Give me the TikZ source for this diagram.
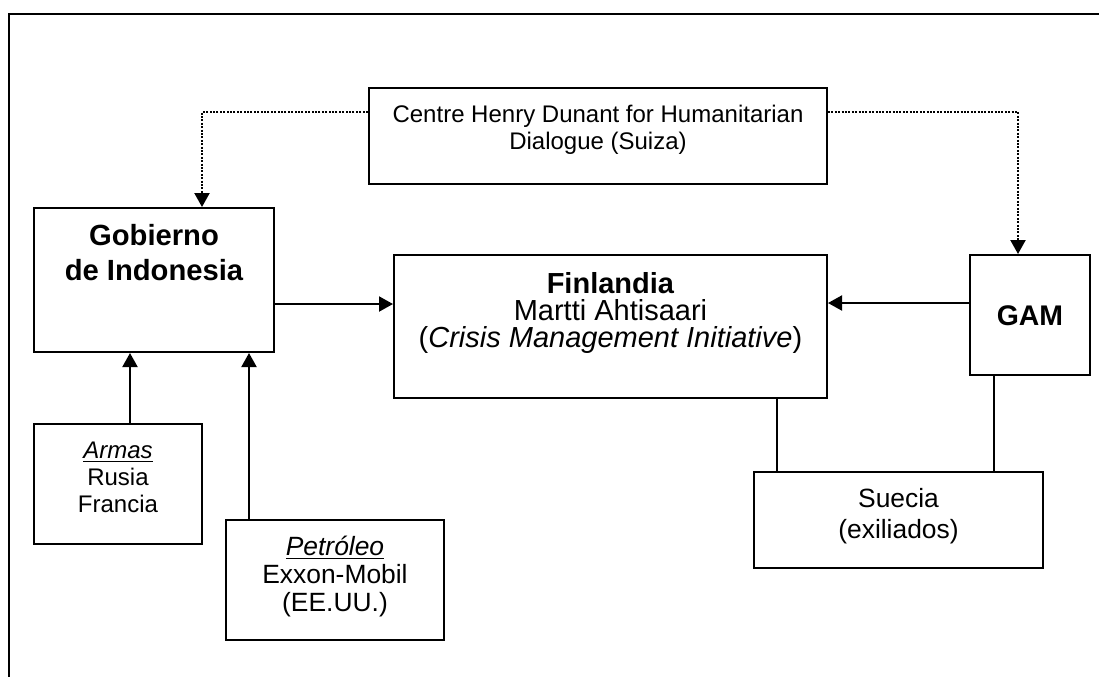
\documentclass[tikz,border=0pt]{standalone}
\usepackage{fontspec}
\setmainfont{Liberation Sans}
\usetikzlibrary{arrows.meta}

% box text from the top: width, height, first baseline, text
\newcommand{\cajatexto}[4]{\parbox[t][#2][t]{#1}{\centering\rule{0pt}{#3}#4}}

\begin{document}
\begin{tikzpicture}[x=0.5pt, y=-0.5pt,
          caja/.style = {draw, line width=1pt, inner sep=0pt, anchor=north west},
          linea/.style = {line width=1pt},
          flecha/.style = {linea, -{Triangle[length=7pt, width=7.5pt]}},
          punteado/.style = {flecha, line width=1.1pt, dash pattern=on 1pt off 0.7pt} ]

\useasboundingbox (0,0) rectangle (1099,677);
\draw[linea] (1099,14) -- (9,14) -- (9,677);

\node[caja, font=\fontsize{12}{13.5}\selectfont] (cdh) at (368,87)
  {\cajatexto{229pt}{48pt}{17pt}{Centre Henry Dunant for Humanitarian\\ Dialogue (Suiza)}};
\node[caja, font=\fontsize{14.6}{17.5}\selectfont\bfseries] (gob) at (33,207)
  {\cajatexto{120pt}{72pt}{18.5pt}{Gobierno\\ de Indonesia}};
\node[caja, font=\fontsize{14.5}{13.5}\selectfont] (fin) at (393,254)
  {\cajatexto{216.5pt}{71.5pt}{19pt}{\textbf{Finlandia}\\ Martti Ahtisaari\\ (\textit{Crisis Management Initiative})}};
\node[caja, font=\fontsize{14.2}{17}\selectfont\bfseries] (gam) at (969,254)
  {\cajatexto{60pt}{60pt}{35pt}{GAM}};
\node[caja, font=\fontsize{12}{13.5}\selectfont] (armas) at (33,423)
  {\cajatexto{84pt}{60pt}{17pt}{\underline{\textit{Armas}}\\ Rusia\\ Francia}};
\node[caja, font=\fontsize{13.2}{14}\selectfont] (petro) at (225,519)
  {\cajatexto{109pt}{60pt}{17.5pt}{\underline{\textit{Petróleo}}\\ Exxon-Mobil\\ (EE.UU.)}};
\node[caja, font=\fontsize{13.2}{15.5}\selectfont] (suecia) at (753,471)
  {\cajatexto{144.5pt}{48pt}{17.5pt}{Suecia\\ (exiliados)}};

% mediacion
\draw[punteado] ([yshift=12pt]cdh.west) -| ([xshift=24pt]gob.north);
\draw[punteado] ([yshift=12pt]cdh.east) -| ([xshift=-6pt]gam.north);

\coordinate (g1) at ([yshift=-12pt]gob.east);
\coordinate (m1) at ([yshift=6pt]gam.west);
\draw[flecha] (g1) -- (g1 -| fin.west);
\draw[flecha] (m1) -- (m1 -| fin.east);

% apoyos
\coordinate (a1) at ([xshift=6pt]armas.north);
\coordinate (p1) at ([xshift=12pt]petro.north west);
\draw[flecha] (a1) -- (a1 |- gob.south);
\draw[flecha] (p1) -- (p1 |- gob.south);

\coordinate (s1) at ([xshift=12pt]suecia.north west);
\coordinate (s2) at ([xshift=-18pt]gam.south);
\draw[linea] (s1) -- (s1 |- fin.south);
\draw[linea] (s2) -- (s2 |- suecia.north);
\end{tikzpicture}
\end{document}
